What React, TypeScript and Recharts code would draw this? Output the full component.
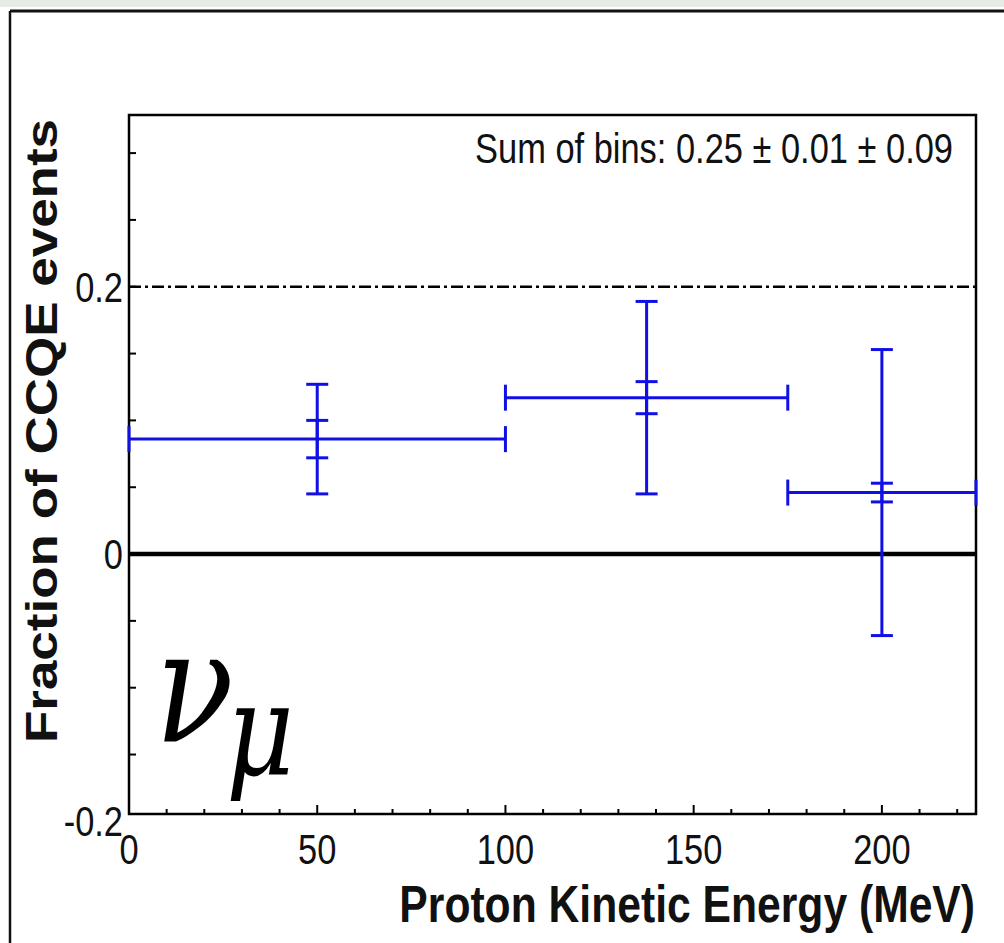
import React from 'react';
import { ScatterChart, Scatter, XAxis, YAxis, ErrorBar, ReferenceLine, ReferenceArea } from 'recharts';

// ---- data ----
const binLow = [0, 100, 175];
const binHigh = [100, 175, 225];
const fraction = [0.086, 0.117, 0.046];
const statErr = [0.014, 0.012, 0.007];
const totalErr = [0.041, 0.072, 0.107];

const xDomain = [0, 225];
const yDomain = [-0.1945, 0.3285];
const xTicks = [0, 10, 20, 30, 40, 50, 60, 70, 80, 90, 100, 110, 120, 130, 140, 150, 160, 170, 180, 190, 200, 210, 220];
const xLabelTicks = [0, 50, 100, 150, 200];
const yTicks = [-0.2, -0.15, -0.1, -0.05, 0, 0.05, 0.1, 0.15, 0.2, 0.25, 0.3];
const yLabelTicks = [-0.2, 0, 0.2];
const dashedLevel = 0.2;

const sumText = 'Sum of bins: 0.25 \u00B1 0.01 \u00B1 0.09';
const xTitle = 'Proton Kinetic Energy (MeV)';
const yTitle = 'Fraction of CCQE events';
const nuText = '\u03BD';
const muText = '\u03BC';

const data = binLow.map((lo, i) => ({
  x: (lo + binHigh[i]) / 2,
  y: fraction[i],
  xErr: (binHigh[i] - lo) / 2,
  stat: statErr[i],
  total: totalErr[i],
}));

const BLUE = '#1010e6';
const SANS = '"Liberation Sans", Arial, Helvetica, sans-serif';
const SERIF = '"DejaVu Serif", "Liberation Serif", serif';
const SX = 0.82;

const near = (a: number, b: number) => Math.abs(a - b) < 1e-6;

const XTick = (props: any) => {
  const { x, y, payload } = props;
  const v = payload.value;
  const isLabel = xLabelTicks.some((t) => near(t, v));
  const len = v % 50 === 0 ? 9 : 5;
  return (
    <g>
      <line x1={x} y1={y} x2={x} y2={y - len} stroke="#000" strokeWidth={2} />
      {isLabel && (
        <text
          transform={`translate(${x},${y + 50}) scale(${SX},1)`}
          textAnchor="middle"
          fontFamily={SANS}
          fontSize={42}
          fill="#111"
        >
          {String(v)}
        </text>
      )}
    </g>
  );
};

const YTick = (props: any) => {
  const { x, y, payload } = props;
  const v = payload.value;
  const isLabel = yLabelTicks.some((t) => near(t, v));
  const inside = v >= yDomain[0] && v <= yDomain[1];
  return (
    <g>
      {inside && <line x1={x} y1={y} x2={x + 7} y2={y} stroke="#000" strokeWidth={2} />}
      {isLabel && (
        <text
          transform={`translate(${x - 6},${y + 15}) scale(${SX},1)`}
          textAnchor="end"
          fontFamily={SANS}
          fontSize={42}
          fill="#111"
        >
          {String(v)}
        </text>
      )}
    </g>
  );
};

export default function App() {
  return (
    <div style={{ position: 'absolute', left: 0, top: 0, width: 1004, height: 943, background: '#fff', overflow: 'hidden' }}>
      <ScatterChart width={1004} height={943} margin={{ top: 115, right: 28, bottom: 99, left: 69 }}>
        <XAxis
          type="number"
          dataKey="x"
          domain={xDomain}
          ticks={xTicks}
          interval={0}
          allowDataOverflow
          height={30}
          tickSize={0}
          tickMargin={0}
          axisLine={false}
          tickLine={false}
          tick={<XTick />}
        />
        <YAxis
          type="number"
          dataKey="y"
          domain={yDomain}
          ticks={yTicks}
          interval={0}
          allowDataOverflow
          width={60}
          tickSize={0}
          tickMargin={0}
          axisLine={false}
          tickLine={false}
          tick={<YTick />}
        />
        <ReferenceLine y={dashedLevel} stroke="#000" strokeWidth={2.5} strokeDasharray="12 4 3 4" />
        <ReferenceLine y={0} stroke="#000" strokeWidth={4.5} />
        <ReferenceArea
          x1={xDomain[0]}
          x2={xDomain[1]}
          y1={yDomain[0]}
          y2={yDomain[1]}
          fill="none"
          fillOpacity={0}
          stroke="#000"
          strokeWidth={2.5}
          ifOverflow="visible"
        />
        <Scatter data={data} isAnimationActive={false} shape={() => <g />}>
          <ErrorBar dataKey="xErr" direction="x" width={13} stroke={BLUE} strokeWidth={3} isAnimationActive={false} />
          <ErrorBar dataKey="total" direction="y" width={11} stroke={BLUE} strokeWidth={3} isAnimationActive={false} />
          <ErrorBar dataKey="stat" direction="y" width={11} stroke={BLUE} strokeWidth={3} isAnimationActive={false} />
        </Scatter>
      </ScatterChart>
      <svg
        width={1004}
        height={943}
        style={{ position: 'absolute', left: 0, top: 0, pointerEvents: 'none' }}
      >
        <rect x={0} y={0} width={1004} height={7} fill="#e6ebe6" />
        <line x1={10} y1={11} x2={1004} y2={11} stroke="#111" strokeWidth={3} />
        <line x1={10} y1={11} x2={10} y2={943} stroke="#111" strokeWidth={2.5} />
        <text transform={`translate(953,163) scale(${SX},1)`} textAnchor="end" fontFamily={SANS} fontSize={42} fill="#111">
          {sumText}
        </text>
        <text transform={`translate(975,922) scale(${SX},1)`} textAnchor="end" fontFamily={SANS} fontWeight="bold" fontSize={52} fill="#111">
          {xTitle}
        </text>
        <text transform={`translate(57,431) rotate(-90) scale(1,${SX})`} textAnchor="middle" fontFamily={SANS} fontWeight="bold" fontSize={53} fill="#111">
          {yTitle}
        </text>
        <text transform={`translate(155,742) scale(${SX},1)`} fontFamily={SERIF} fontStyle="italic" fontSize={158} fill="#000">
          {nuText}
        </text>
        <text transform={`translate(226,774) scale(${SX},1)`} fontFamily={SERIF} fontStyle="italic" fontSize={128} fill="#000">
          {muText}
        </text>
      </svg>
    </div>
  );
}
